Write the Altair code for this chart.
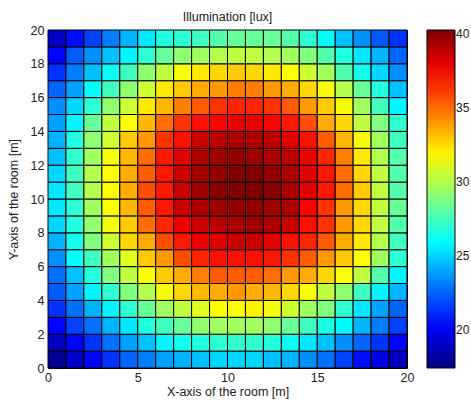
import altair as alt
import pandas as pd

# Illumination values [lux]; one list per row (y cell), columns x = 0..19
y19 = [19.0, 20.5, 21.7, 23.1, 24.3, 25.5, 26.7, 27.0, 27.4, 27.8, 28.3, 28.3, 28.3, 27.8, 27.0, 26.0, 24.6, 23.5, 22.3, 21.4]
y18 = [20.3, 22.3, 23.5, 24.6, 25.8, 27.0, 28.3, 29.2, 29.6, 30.0, 30.3, 30.3, 30.0, 29.6, 28.9, 27.8, 26.7, 25.5, 24.3, 22.5]
y17 = [21.4, 23.1, 24.6, 26.2, 27.4, 29.2, 30.3, 31.5, 32.2, 32.6, 32.9, 32.6, 32.2, 31.7, 30.6, 29.6, 27.8, 26.4, 25.1, 23.5]
y16 = [22.5, 23.9, 26.0, 27.4, 29.2, 30.6, 32.2, 32.9, 33.6, 34.0, 34.6, 34.6, 34.0, 33.6, 32.6, 31.5, 30.0, 28.3, 26.7, 24.6]
y15 = [23.5, 25.1, 27.0, 29.2, 30.6, 32.2, 33.3, 34.6, 35.4, 36.3, 36.6, 36.6, 36.3, 35.4, 34.0, 32.9, 31.5, 29.6, 27.4, 25.8]
y14 = [23.9, 25.8, 28.3, 30.3, 31.7, 33.3, 35.0, 36.3, 37.1, 37.4, 37.8, 37.8, 37.4, 36.9, 35.7, 33.6, 32.6, 30.3, 28.9, 27.0]
y13 = [24.3, 26.7, 29.2, 30.6, 32.9, 34.0, 36.3, 37.1, 38.6, 39.0, 39.3, 39.3, 39.0, 38.1, 37.1, 35.4, 33.3, 31.5, 29.6, 27.4]
y12 = [24.6, 27.0, 29.6, 31.5, 33.3, 35.0, 36.9, 38.1, 39.3, 39.6, 39.9, 39.6, 39.3, 39.0, 37.8, 36.6, 34.6, 32.2, 30.0, 27.8]
y11 = [25.1, 27.4, 30.0, 31.7, 33.6, 35.4, 36.9, 38.6, 39.5, 39.9, 40.3, 40.3, 39.9, 39.3, 38.1, 36.9, 35.0, 32.6, 30.3, 27.8]
y10 = [25.5, 27.4, 30.0, 31.7, 33.6, 35.7, 36.9, 38.6, 39.6, 40.1, 40.3, 40.3, 40.1, 39.3, 38.1, 36.9, 35.0, 32.9, 30.3, 27.8]
y9 = [25.5, 27.0, 29.6, 31.7, 33.3, 35.4, 36.9, 38.6, 39.3, 39.6, 39.9, 39.9, 39.6, 39.3, 37.4, 36.3, 34.0, 32.6, 30.3, 28.3]
y8 = [25.1, 26.7, 29.2, 31.5, 32.9, 35.0, 36.6, 37.8, 38.6, 39.0, 39.3, 39.6, 39.3, 38.6, 37.1, 36.3, 34.0, 32.6, 30.3, 27.8]
y7 = [24.3, 26.4, 28.9, 30.6, 32.6, 33.6, 35.7, 36.9, 37.8, 38.1, 38.6, 38.6, 38.1, 37.1, 36.6, 35.4, 33.6, 32.2, 30.0, 27.4]
y6 = [23.5, 26.0, 27.4, 29.6, 31.0, 32.9, 34.0, 35.7, 36.6, 37.1, 37.1, 37.1, 36.9, 36.3, 35.4, 34.0, 32.9, 31.7, 29.6, 27.0]
y5 = [22.8, 24.6, 26.7, 28.9, 30.3, 31.7, 32.9, 33.6, 34.6, 35.4, 35.4, 35.4, 35.0, 34.0, 33.6, 32.6, 31.7, 30.3, 27.8, 25.8]
y4 = [22.3, 23.9, 25.8, 27.0, 28.9, 30.0, 31.5, 32.6, 33.3, 33.6, 34.0, 33.6, 33.3, 32.6, 31.7, 30.3, 29.2, 27.4, 25.8, 24.3]
y3 = [21.4, 22.8, 24.3, 25.8, 27.0, 28.3, 29.6, 30.3, 31.0, 31.7, 31.7, 32.0, 31.5, 30.6, 29.6, 28.9, 27.0, 25.5, 23.9, 22.5]
y2 = [20.3, 21.7, 22.8, 24.3, 25.5, 26.7, 27.4, 28.3, 29.2, 29.6, 29.6, 29.6, 29.2, 28.3, 27.4, 26.6, 25.9, 24.3, 23.1, 21.7]
y1 = [18.8, 20.3, 21.4, 22.8, 23.9, 24.6, 25.8, 26.4, 26.7, 27.0, 27.0, 27.0, 26.7, 26.2, 25.5, 24.6, 23.5, 22.5, 21.4, 20.3]
y0 = [17.8, 19.1, 20.3, 21.4, 22.5, 23.1, 23.9, 24.3, 24.6, 25.1, 25.1, 25.1, 24.6, 24.3, 23.5, 22.8, 21.7, 20.5, 19.6, 18.8]

x_ticks = [0, 5, 10, 15, 20]
y_ticks = [0, 2, 4, 6, 8, 10, 12, 14, 16, 18, 20]
cbar_ticks = [20, 25, 30, 35, 40]
c_min, c_max = 17.4, 40.3
jet_colors = ["#000080", "#0000ff", "#00ffff", "#ffff00", "#ff0000", "#800000"]
jet_pos = [0.0, 0.125, 0.375, 0.625, 0.875, 1.0]

rows = [y0, y1, y2, y3, y4, y5, y6, y7, y8, y9, y10, y11, y12, y13, y14, y15, y16, y17, y18, y19]
records = []
for yi, row in enumerate(rows):
    for xi, v in enumerate(row):
        records.append({"x0": xi, "x1": xi + 1, "y0": yi, "y1": yi + 1, "lux": v})
df = pd.DataFrame(records)

color_domain = [c_min + p * (c_max - c_min) for p in jet_pos]
FONT = "Liberation Sans"
TXT = "#222222"

chart = alt.Chart(df).mark_rect(stroke="black", strokeWidth=1).encode(
    x=alt.X("x0:Q",
            scale=alt.Scale(domain=[0, 20], nice=False, zero=False),
            axis=alt.Axis(values=x_ticks, title="X-axis of the room [m]", ticks=False,
                          grid=False, domain=False, labelPadding=3, titlePadding=2,
                          labelFlush=False,
                          labelFont=FONT, titleFont=FONT, labelFontSize=12.5, titleFontSize=12.5,
                          titleFontWeight="normal", labelColor=TXT, titleColor=TXT)),
    x2="x1:Q",
    y=alt.Y("y0:Q",
            scale=alt.Scale(domain=[0, 20], nice=False, zero=False),
            axis=alt.Axis(values=y_ticks, title="Y-axis of the room [m]", ticks=False,
                          grid=False, domain=False, labelPadding=4, titlePadding=10,
                          labelFlush=False,
                          labelFont=FONT, titleFont=FONT, labelFontSize=12.5, titleFontSize=12.5,
                          titleFontWeight="normal", labelColor=TXT, titleColor=TXT)),
    y2="y1:Q",
    color=alt.Color("lux:Q",
                    scale=alt.Scale(domain=color_domain, range=jet_colors, interpolate="rgb"),
                    legend=alt.Legend(orient="none", legendX=379, legendY=0, direction="vertical",
                                      gradientLength=338, gradientThickness=28,
                                      gradientStrokeColor="black", gradientStrokeWidth=1,
                                      values=cbar_ticks, labelFont=FONT, labelFontSize=12,
                                      labelColor=TXT, labelOffset=1, title=None)),
).properties(
    width=359,
    height=338,
    title=alt.Title("Illumination [lux]", font=FONT, fontSize=12.5, fontWeight="normal",
                    color=TXT, anchor="middle", offset=1),
    autosize=alt.AutoSizeParams(type="none"),
    padding={"left": 48, "top": 30, "right": 64, "bottom": 33},
).configure_view(stroke="black", strokeWidth=1)

chart.save("out.html", embed_options={"renderer": "svg", "actions": False})
